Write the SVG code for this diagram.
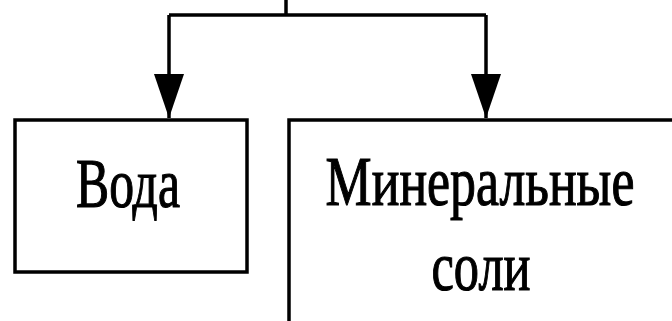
<svg xmlns="http://www.w3.org/2000/svg" width="672" height="321" viewBox="0 0 672 321">
<defs>
<marker id="arr" markerUnits="userSpaceOnUse" markerWidth="46" markerHeight="32" refX="44" refY="15" orient="auto">
<path d="M0,0 L44,15 L0,30 Z" fill="#000"/>
</marker>
<style>
.box{fill:#fff;stroke:#000;stroke-width:3.5}
.ln{fill:none;stroke:#000;stroke-width:3.5}
.t{font-family:"Liberation Serif","Times New Roman",serif;font-size:70px;fill:#000;stroke:#000;stroke-width:1.2;text-anchor:middle}
</style>
</defs>
<rect width="672" height="321" fill="#fff"/>
<g id="connectors">
<path class="ln" d="M286,0 V15"/>
<path class="ln" d="M169,15 H486"/>
<path class="ln" d="M169,15 V118" marker-end="url(#arr)"/>
<path class="ln" d="M486,15 V118" marker-end="url(#arr)"/>
</g>
<g id="voda">
<rect class="box" x="15" y="120" width="232" height="152"/>
<text class="t" transform="translate(128,207) scale(0.71,1)">Вода</text>
</g>
<g id="minerals">
<rect class="box" x="289" y="120" width="420" height="230"/>
<text class="t" transform="translate(480,205) scale(0.74,1)">Минеральные</text>
<text class="t" transform="translate(481,290) scale(0.72,1)">соли</text>
</g>
</svg>
